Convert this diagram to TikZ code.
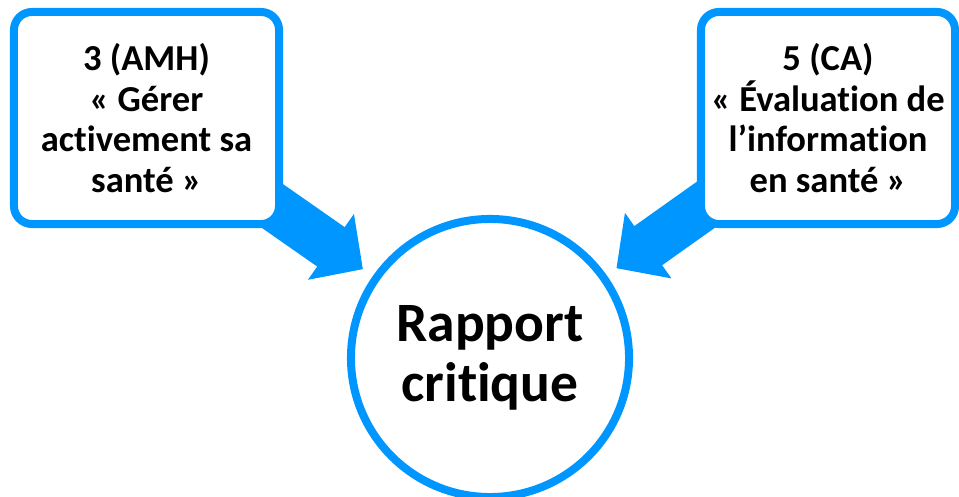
\documentclass[tikz,border=0pt]{standalone}
\usepackage{fontspec}
\setmainfont{Carlito}[Ligatures=NoCommon]
\usetikzlibrary{
arrows.meta,
backgrounds
}
\definecolor{skyblue}{RGB}{0,150,255}

\begin{document}
\begin{tikzpicture}[
x=0.025cm, y=-0.025cm,
topic/.style={
draw=skyblue,
fill=white,
line width=0.2cm,
rounded corners=0.45cm,
minimum height=5.3cm,
align=center,
font=\fontsize{26}{29}\selectfont\bfseries
},
report/.style={
circle,
draw=skyblue,
fill=white,
line width=0.2cm,
minimum size=6.95cm,
inner sep=0pt,
align=center,
font=\fontsize{39.5}{43}\selectfont\bfseries
},
bigarrow/.style={-{Triangle[length=0.975cm,width=1.95cm]},draw=skyblue,line width=1.2cm,shorten >=0.3cm}
]
\useasboundingbox (0,0) rectangle (959,497);

\node[topic,minimum width=6.625cm] (amh) at (146.5,118) {3 (AMH)\\« Gérer\\activement sa\\santé »};
\node[topic,minimum width=6.35cm] (ca) at (828,118) {5 (CA)\\« Évaluation de\\l’information\\en santé »};
\node[report] (rapport) at (490,358) {Rapport\\critique};

\begin{scope}[on background layer]
\draw[bigarrow] (amh.center) -- (rapport);
\draw[bigarrow] (ca.center) -- (rapport);
\end{scope}

\end{tikzpicture}
\end{document}
